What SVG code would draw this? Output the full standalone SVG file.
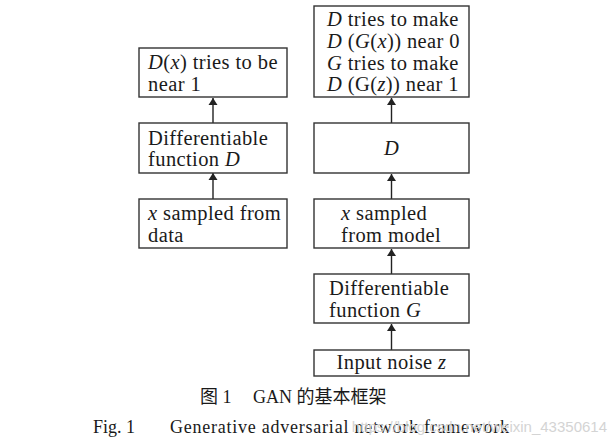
<svg xmlns="http://www.w3.org/2000/svg" width="613" height="448" viewBox="0 0 613 448">
<defs>
<style>
.box{fill:#fff;stroke:#333;stroke-width:1.4}
.t{font-family:"Liberation Serif","Times New Roman",serif;font-size:20.5px;letter-spacing:0.4px;fill:#1a1a1a}
.i{font-style:italic}
.c{text-anchor:middle}
.cap{font-family:"Liberation Serif","Noto Sans CJK SC",serif;font-size:18px;fill:#1a1a1a}
.conn{stroke:#222;stroke-width:1.4;fill:none;marker-end:url(#ah)}
.wm{font-family:"Liberation Sans",Arial,sans-serif;font-size:15px;fill:#d4d4d4;text-anchor:end}
</style>
<marker id="ah" viewBox="0 0 7 12" refX="7" refY="6" markerWidth="7" markerHeight="12" markerUnits="userSpaceOnUse" orient="auto">
<path d="M0,1.5 L7,6 L0,10.5 z" fill="#222"/>
</marker>
</defs>
<rect width="613" height="448" fill="#fff"/>

<g id="connectors">
<line class="conn" x1="213" y1="123" x2="213" y2="98"/>
<line class="conn" x1="213" y1="199" x2="213" y2="173"/>
<line class="conn" x1="391.5" y1="123" x2="391.5" y2="98"/>
<line class="conn" x1="391.5" y1="199" x2="391.5" y2="174"/>
<line class="conn" x1="391.5" y1="274" x2="391.5" y2="249"/>
<line class="conn" x1="391.5" y1="350" x2="391.5" y2="324"/>
</g>

<g id="d-near-1">
<rect class="box" x="139" y="48" width="148" height="49"/>
<text class="t" x="148" y="69"><tspan class="i">D</tspan>(<tspan class="i">x</tspan>) tries to be</text>
<text class="t" x="148" y="91">near 1</text>
</g>
<g id="diff-d">
<rect class="box" x="139" y="123" width="148" height="50"/>
<text class="t" x="148" y="145">Differentiable</text>
<text class="t" x="148" y="166">function <tspan class="i">D</tspan></text>
</g>
<g id="x-data">
<rect class="box" x="139" y="199" width="148" height="49"/>
<text class="t" x="148" y="220"><tspan class="i">x</tspan> sampled from</text>
<text class="t" x="148" y="242">data</text>
</g>

<g id="objective">
<rect class="box" x="314" y="6" width="155" height="91"/>
<text class="t" x="327" y="26"><tspan class="i">D</tspan> tries to make</text>
<text class="t" x="327" y="48"><tspan class="i">D</tspan> (<tspan class="i">G</tspan>(<tspan class="i">x</tspan>)) near 0</text>
<text class="t" x="327" y="70"><tspan class="i">G</tspan> tries to make</text>
<text class="t" x="327" y="91"><tspan class="i">D</tspan> (G(<tspan class="i">z</tspan>)) near 1</text>
</g>
<g id="d">
<rect class="box" x="314" y="123" width="155" height="50"/>
<text class="t i c" x="391.5" y="155">D</text>
</g>
<g id="x-model">
<rect class="box" x="314" y="199" width="155" height="49"/>
<text class="t" x="341" y="220"><tspan class="i">x</tspan> sampled</text>
<text class="t" x="341" y="242">from model</text>
</g>
<g id="diff-g">
<rect class="box" x="314" y="274" width="155" height="49"/>
<text class="t" x="329" y="295">Differentiable</text>
<text class="t" x="329" y="317">function <tspan class="i">G</tspan></text>
</g>
<g id="noise">
<rect class="box" x="314" y="350" width="155" height="26"/>
<text class="t c" x="391.5" y="369">Input noise <tspan class="i">z</tspan></text>
</g>

<g id="caption">
<text class="cap" x="200" y="403">图 1</text>
<text class="cap" x="253" y="403">GAN 的基本框架</text>
<text class="cap" x="93" y="433">Fig. 1</text>
<text class="cap" x="170" y="433" textLength="339" lengthAdjust="spacing">Generative adversarial network framework</text>
<text class="wm" x="607" y="432">https://blog.csdn.net/weixin_43350614</text>
</g>
</svg>
